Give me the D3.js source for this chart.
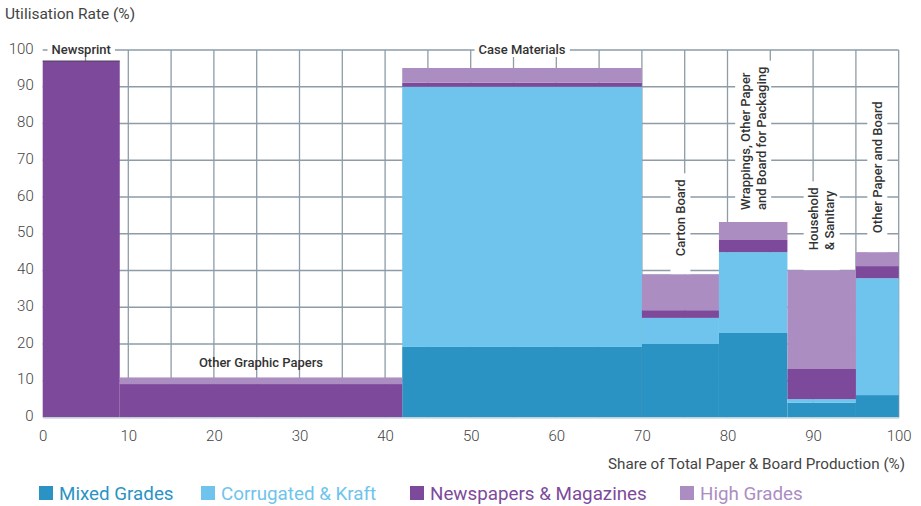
<!DOCTYPE html>
<html>
<head>
<meta charset="utf-8">
<script src="https://cdn.jsdelivr.net/npm/d3@7"></script>
<style>
  body { margin: 0; background: #fff; }
  svg text { font-family: Roboto, "Liberation Sans", sans-serif; }
</style>
</head>
<body>
<svg id="chart" width="921" height="506"></svg>
<script>
var width = 921;
var height = 506;

// paper grades, their share of production (start/end, %) and utilisation rate per fibre source
var categories = ["Newsprint", "Other Graphic Papers", "Case Materials", "Carton Board",
                  "Wrappings, Other Paper and Board for Packaging", "Household & Sanitary", "Other Paper and Board"];
var shareStart = [0, 9, 42, 70, 79, 87, 95];
var shareEnd   = [9, 42, 70, 79, 87, 95, 100];

var seriesNames = ["Mixed Grades", "Corrugated & Kraft", "Newspapers & Magazines", "High Grades"];
var mixedGrades = [0, 0, 19.2, 20, 23, 4, 6.1];
var corrugatedKraft = [0, 0, 70.8, 7.1, 22, 1, 31.8];
var newspapersMagazines = [97, 9.1, 1.1, 2.1, 3.3, 8.2, 3.3];
var highGrades = [0, 1.8, 4, 9.8, 4.9, 26.9, 3.8];

var xTicks = [0, 10, 20, 30, 40, 50, 60, 70, 80, 90, 100];
var yTicks = [0, 10, 20, 30, 40, 50, 60, 70, 80, 90, 100];

var colors = ["#2b93c3", "#6ec4ec", "#7d4a9b", "#ac8dc2"];

var svg = d3.select("#chart");

var x = d3.scaleLinear().domain([0, 100]).range([42.7, 898.7]);
var y = d3.scaleLinear().domain([0, 100]).range([417.5, 50]);

var rows = categories.map(function(c, i) {
    return { cat: c, x0: shareStart[i], x1: shareEnd[i],
             "Mixed Grades": mixedGrades[i], "Corrugated & Kraft": corrugatedKraft[i],
             "Newspapers & Magazines": newspapersMagazines[i], "High Grades": highGrades[i] };
});
var stacked = d3.stack().keys(seriesNames)(rows);

// grid
var grid = svg.append("g");
grid.selectAll("line.h").data(d3.range(10, 101, 10)).enter().append("line")
    .attr("x1", x(0)).attr("x2", x(100))
    .attr("y1", function(d) { return y(d); }).attr("y2", function(d) { return y(d); })
    .attr("stroke", "#8d9ca6").attr("stroke-width", 1.3);
grid.selectAll("line.v").data(d3.range(5, 101, 5)).enter().append("line")
    .attr("x1", function(d) { return x(d); }).attr("x2", function(d) { return x(d); })
    .attr("y1", y(0)).attr("y2", y(100))
    .attr("stroke", "#8d9ca6").attr("stroke-width", 1.3);

// bars
svg.append("g").selectAll("g").data(stacked).enter().append("g")
    .attr("fill", function(d, i) { return colors[i]; })
    .selectAll("rect").data(function(d) { return d; }).enter().append("rect")
    .attr("x", function(d) { return x(d.data.x0); })
    .attr("width", function(d) { return x(d.data.x1) - x(d.data.x0); })
    .attr("y", function(d) { return y(d[1]); })
    .attr("height", function(d) { return y(d[0]) - y(d[1]); });

// thin dark edge on top of newsprint
svg.append("line")
    .attr("x1", x(shareStart[0])).attr("x2", x(shareEnd[0]))
    .attr("y1", y(newspapersMagazines[0])).attr("y2", y(newspapersMagazines[0]))
    .attr("stroke", "#4b3a5c").attr("stroke-width", 1);

// axes
var xAxis = d3.axisBottom(x).tickValues(xTicks).tickSize(0).tickPadding(13);
var gx = svg.append("g").attr("transform", "translate(0," + y(0) + ")").call(xAxis);
gx.select(".domain").attr("stroke", "#c9d8dc").attr("stroke-width", 1.5);
gx.selectAll("text").attr("font-size", 15).attr("fill", "#444").attr("font-weight", 300);

var yAxis = d3.axisLeft(y).tickValues(yTicks).tickSize(0).tickPadding(9);
var gy = svg.append("g").attr("transform", "translate(" + x(0) + ",0)").call(yAxis);
gy.select(".domain").remove();
gy.selectAll("text").attr("font-size", 15).attr("fill", "#444").attr("font-weight", 300)
    .attr("dy", "0.2em");

svg.append("text").attr("x", 5).attr("y", 19).attr("font-size", 15.5).attr("fill", "#444")
    .text("Utilisation Rate (%)");
svg.append("text").attr("x", 905).attr("y", 469).attr("text-anchor", "end")
    .attr("font-size", 15.2).attr("fill", "#444").text("Share of Total Paper & Board Production (%)");

// category labels
var labelG = svg.append("g");
function topOf(i) {
    return mixedGrades[i] + corrugatedKraft[i] + newspapersMagazines[i] + highGrades[i];
}
function mid(i) { return x((shareStart[i] + shareEnd[i]) / 2); }

function addBg(t, padX, padY) {
    var b = t.node().getBBox();
    labelG.insert("rect", function() { return t.node(); })
        .attr("x", b.x - padX).attr("y", b.y - padY)
        .attr("width", b.width + 2 * padX).attr("height", b.height + 2 * padY)
        .attr("fill", "#fff");
}

// horizontal labels
[[0, y(100) + 4, true], [2, y(100) + 4, true], [1, y(topOf(1)) - 10, false]].forEach(function(h) {
    var t = labelG.append("text").attr("x", mid(h[0])).attr("y", h[1])
        .attr("text-anchor", "middle").attr("font-size", 13).attr("font-weight", 500)
        .attr("fill", "#333").text(categories[h[0]]);
    if (h[2]) addBg(t, 4, 0);
});

// vertical labels
var vLabels = [[3, ["Carton Board"], 18], [4, ["Wrappings, Other Paper", "and Board for Packaging"], 12],
               [5, ["Household", "& Sanitary"], 20], [6, ["Other Paper and Board"], 19]];
vLabels.forEach(function(v) {
    var i = v[0], lines = v[1];
    var cx = mid(i), by = y(topOf(i)) - v[2];
    var t = labelG.append("text").attr("font-size", 13).attr("font-weight", 500).attr("fill", "#333")
        .attr("text-anchor", "start")
        .attr("transform", "translate(" + cx + "," + by + ") rotate(-90)");
    var lh = 16;
    lines.forEach(function(l, k) {
        t.append("tspan").attr("x", 0).attr("y", (k - (lines.length - 1) / 2) * lh + 4.5).text(l);
    });
    var b = t.node().getBBox();
    var len = b.width;
    labelG.insert("rect", function() { return t.node(); })
        .attr("x", cx - lines.length * lh / 2 - 2)
        .attr("y", by - len - 6)
        .attr("width", lines.length * lh + 4)
        .attr("height", y(topOf(i)) - (by - len - 6))
        .attr("fill", "#fff");
});

// legend
var legendX = [39, 201, 410, 680];
var leg = svg.append("g").selectAll("g").data(seriesNames).enter().append("g")
    .attr("transform", function(d, i) { return "translate(" + legendX[i] + ",486)"; });
leg.append("rect").attr("width", 14).attr("height", 14).attr("fill", function(d, i) { return colors[i]; });
leg.append("text").attr("x", 20).attr("y", 14).attr("font-size", 18.8)
    .attr("fill", function(d, i) { return colors[i]; }).text(function(d) { return d; });
</script>
</body>
</html>
